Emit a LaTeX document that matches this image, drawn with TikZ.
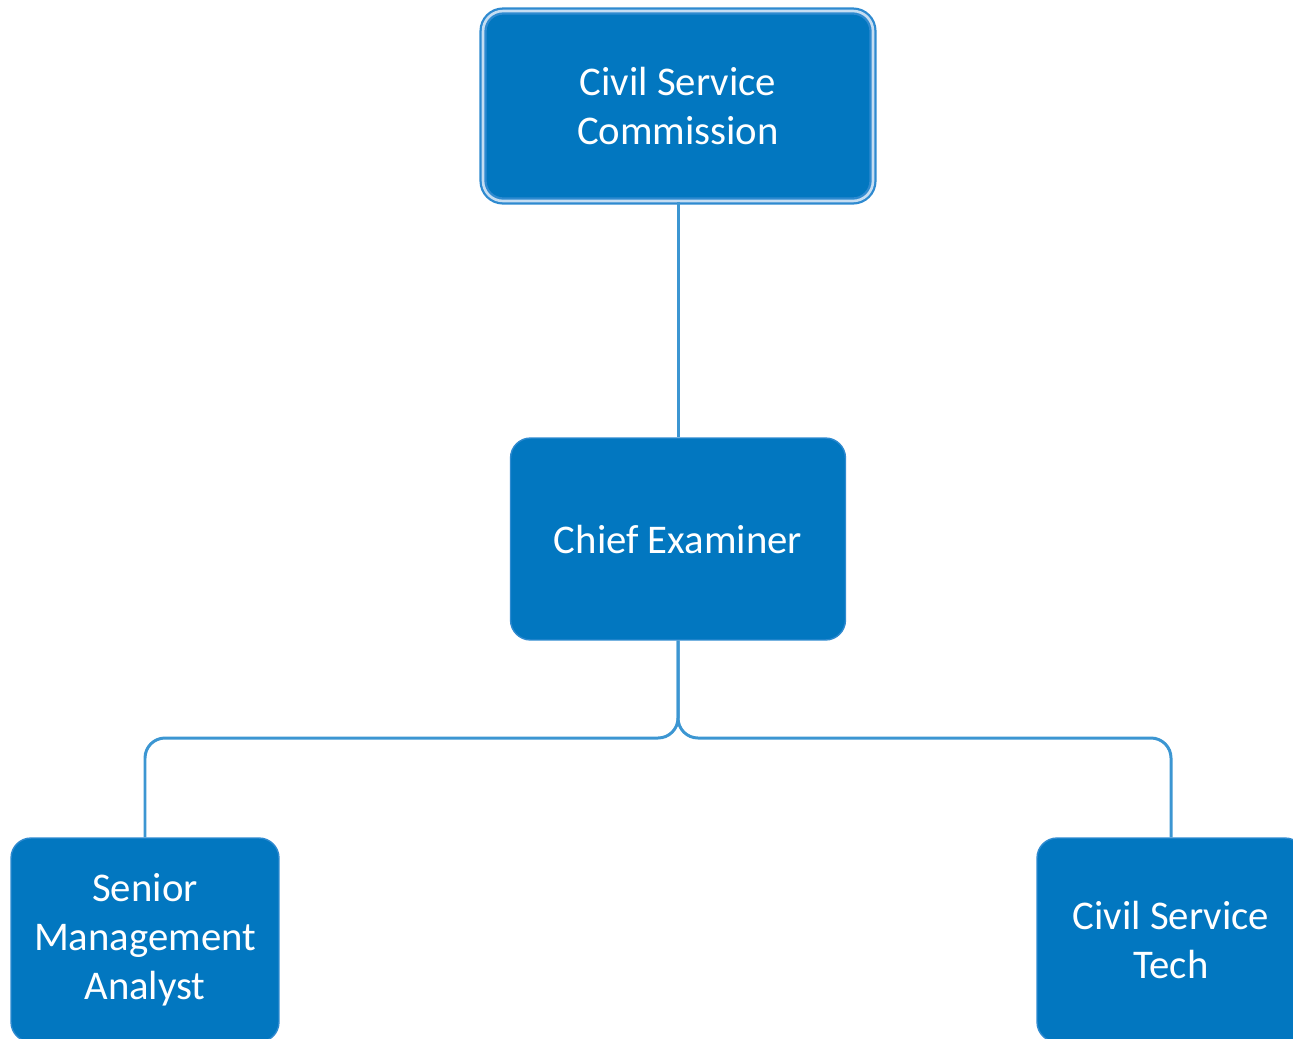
\documentclass[tikz,border=0pt]{standalone}
\usepackage{fontspec}
\setmainfont{Carlito}
\definecolor{boxfill}{RGB}{2,119,192}
\definecolor{boxedge}{RGB}{46,138,208}
\definecolor{paleedge}{RGB}{197,221,242}
\definecolor{linkblue}{RGB}{60,150,210}
\tikzset{
  post/.style={rectangle, rounded corners=0.4cm, fill=boxfill, draw=boxedge, line width=0.8pt,
    text=white, align=center, font=\fontsize{23.2}{27.8}\selectfont},
  head/.style={post, double=paleedge, double distance=1.5pt, line width=1.3pt},
  conn/.style={draw=linkblue, line width=1.7pt, rounded corners=0.4cm}
}
\begin{document}
\begin{tikzpicture}[x=0.02cm, y=-0.02cm]
\useasboundingbox (0,0) rectangle (1293,1038);
\begin{scope}
\clip (0,0) rectangle (1293,1038);
\node[head, minimum width=7.8cm, minimum height=3.8cm] (csc) at (678,106) {Civil Service\\Commission};
\node[post, minimum width=6.7cm, minimum height=4.04cm] (chief) at (678,539) {Chief Examiner};

\foreach \name/\x/\txt in {sma/145/{Senior\\Management\\Analyst}, cst/1171/{Civil Service\\Tech}} {
  \node[post, minimum width=5.36cm, minimum height=4.08cm] (\name) at (\x,940) {\txt};
}

\coordinate (bus) at (678,738);
\draw[conn] (csc.south) -- (chief.north);
\draw[conn] (chief.south) -- (bus) -| (sma.north);
\draw[conn] (chief.south) -- (bus) -| (cst.north);
\end{scope}
\end{tikzpicture}
\end{document}
